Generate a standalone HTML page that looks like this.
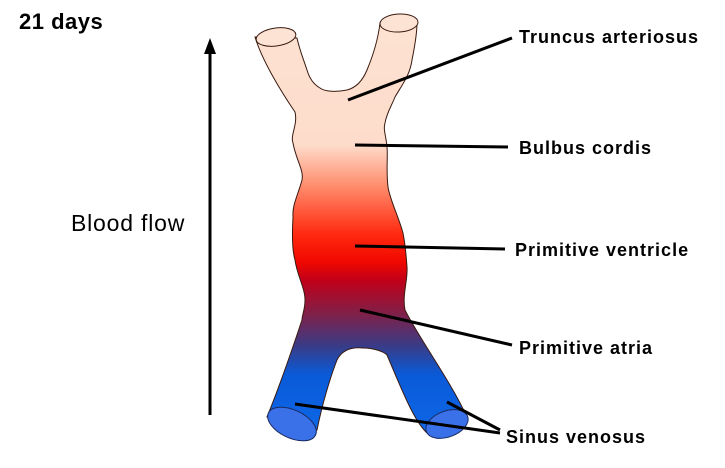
<!DOCTYPE html>
<html><head><style>
body{margin:0;background:#fff;width:725px;height:468px;overflow:hidden}
svg{display:block}
text{font-family:"Liberation Sans",sans-serif}
.l{font-weight:bold;font-size:18px;letter-spacing:1px}
</style></head><body>
<svg width="725" height="468" viewBox="0 0 725 468">
<defs>
<linearGradient id="g" x1="0" y1="0" x2="0" y2="468" gradientUnits="userSpaceOnUse">
<stop offset="0" stop-color="#fde3d3"/>
<stop offset="0.31" stop-color="#fddccb"/>
<stop offset="0.4" stop-color="#ff8a6a"/>
<stop offset="0.5" stop-color="#ff2a10"/>
<stop offset="0.56" stop-color="#f00800"/>
<stop offset="0.6" stop-color="#c0001a"/>
<stop offset="0.67" stop-color="#802048"/>
<stop offset="0.74" stop-color="#383c88"/>
<stop offset="0.8" stop-color="#0a5ad8"/>
<stop offset="1" stop-color="#1070f0"/>
</linearGradient>
</defs>
<path d="M255,37 C262,60 280,90 295,112 C298,125 290,135 293,143 C296,160 304,170 302,180 C298,195 292,205 293,217 C292,235 292,250 295,260 C297,275 305,288 305,300 C305,310 302,315 302,320 C292,350 278,390 267,417 L317,430 C322,405 330,378 337,360 C342,350 352,347 363,348 C375,348 384,352 387,355 C400,385 413,420 427,433 L467,417 C450,380 420,340 405,310 C402,295 408,280 407,267 C406,252 405,243 403,233 C398,215 390,200 388,187 C386,170 388,157 387,147 C386,135 383,130 385,123 C387,112 392,105 395,97 C402,85 410,75 412,60 C415,45 417,33 417,23 L380,23 C378,40 372,58 367,70 C362,82 355,88 347,90 C337,92 325,92 320,88 C313,84 309,77 307,70 C303,58 299,48 297,38 Z" fill="url(#g)" stroke="#3a1a10" stroke-width="1"/>
<ellipse cx="276" cy="37" rx="20" ry="9" transform="rotate(-8 276 37)" fill="#fde3d3" stroke="#3a1a10"/>
<ellipse cx="399" cy="23" rx="19" ry="9" transform="rotate(-3 399 23)" fill="#fde3d3" stroke="#3a1a10"/>
<ellipse cx="292" cy="424" rx="26" ry="14" transform="rotate(25 292 424)" fill="#3a70e8" stroke="#1a2a60"/>
<ellipse cx="447" cy="424" rx="22" ry="13" transform="rotate(-20 447 424)" fill="#3a70e8" stroke="#1a2a60"/>
<g stroke="#000" stroke-width="3" fill="none">
<line x1="348" y1="100" x2="512" y2="38"/>
<line x1="355" y1="145" x2="508" y2="147"/>
<line x1="355" y1="246" x2="505" y2="249"/>
<line x1="360" y1="310" x2="512" y2="345"/>
<line x1="295" y1="404" x2="500" y2="433"/>
<line x1="447" y1="402" x2="500" y2="430"/>
<line x1="210" y1="415" x2="210" y2="52"/>
</g>
<polygon points="210,38 204,54 216,54" fill="#000"/>
<text x="19" y="29" font-size="22" font-weight="bold" letter-spacing="0.5">21 days</text>
<text x="71" y="231" font-size="23" letter-spacing="0.8">Blood flow</text>
<text class="l" x="519" y="43">Truncus arteriosus</text>
<text class="l" x="519" y="154">Bulbus cordis</text>
<text class="l" x="515" y="256">Primitive ventricle</text>
<text class="l" x="519" y="354">Primitive atria</text>
<text class="l" x="506" y="443">Sinus venosus</text>
</svg>
</body></html>
